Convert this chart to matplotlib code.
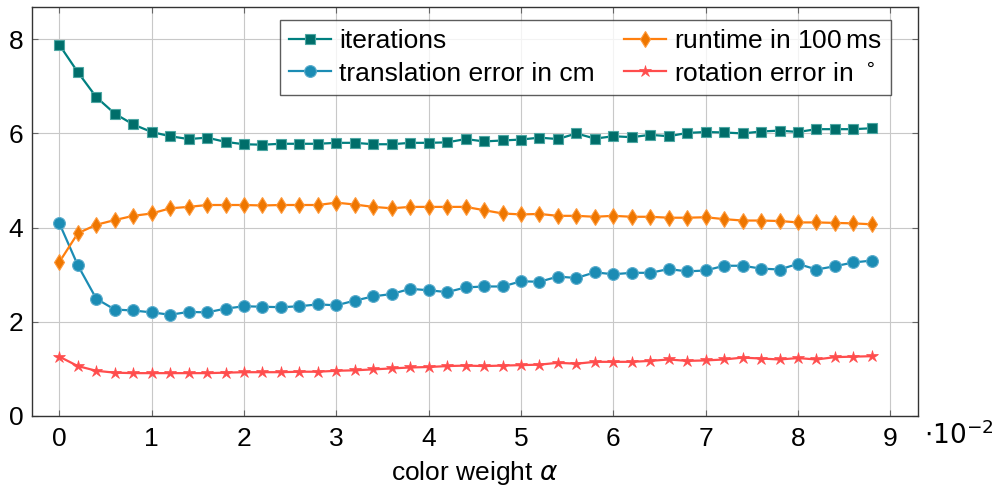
import numpy as np
import matplotlib
matplotlib.use("Agg")
import matplotlib.pyplot as plt

plt.rcParams['font.family'] = ['Liberation Sans', 'DejaVu Sans']
plt.rcParams['mathtext.fontset'] = 'dejavusans'

# color weight alpha, in units of 1e-2
alpha = [0.2 * i for i in range(45)]

iterations = [7.88, 7.30, 6.77, 6.42, 6.19, 6.03, 5.94, 5.88, 5.91, 5.82,
              5.77, 5.76, 5.78, 5.78, 5.78, 5.80, 5.80, 5.77, 5.77, 5.80,
              5.80, 5.81, 5.88, 5.83, 5.85, 5.87, 5.91, 5.88, 6.00, 5.89,
              5.94, 5.92, 5.97, 5.94, 6.01, 6.03, 6.02, 6.00, 6.04, 6.06,
              6.03, 6.09, 6.09, 6.09, 6.11]
runtime = [3.27, 3.88, 4.06, 4.16, 4.25, 4.30, 4.41, 4.44, 4.48, 4.48,
           4.48, 4.47, 4.48, 4.48, 4.48, 4.53, 4.49, 4.44, 4.41, 4.44,
           4.44, 4.44, 4.44, 4.37, 4.30, 4.28, 4.29, 4.25, 4.25, 4.23,
           4.25, 4.23, 4.23, 4.21, 4.21, 4.22, 4.18, 4.15, 4.15, 4.14,
           4.11, 4.11, 4.10, 4.09, 4.07]
trans_err = [4.09, 3.20, 2.49, 2.26, 2.24, 2.20, 2.15, 2.21, 2.20, 2.28,
             2.33, 2.32, 2.31, 2.33, 2.37, 2.35, 2.45, 2.54, 2.59, 2.70,
             2.67, 2.63, 2.73, 2.75, 2.75, 2.86, 2.85, 2.96, 2.93, 3.05,
             3.01, 3.04, 3.04, 3.12, 3.07, 3.09, 3.19, 3.19, 3.13, 3.11,
             3.23, 3.11, 3.18, 3.26, 3.30]
rot_err = [1.26, 1.06, 0.96, 0.92, 0.91, 0.91, 0.91, 0.91, 0.91, 0.92,
           0.93, 0.93, 0.93, 0.94, 0.94, 0.96, 0.97, 0.99, 1.01, 1.03,
           1.04, 1.06, 1.07, 1.06, 1.07, 1.08, 1.09, 1.13, 1.11, 1.15,
           1.15, 1.15, 1.17, 1.20, 1.17, 1.18, 1.20, 1.24, 1.22, 1.20,
           1.23, 1.20, 1.25, 1.26, 1.27]

fs = 19

fig = plt.figure(figsize=(9.96, 4.87), dpi=100)
ax = fig.add_axes([0.0318, 0.1458, 0.8899, 0.8404])

ax.plot(alpha, iterations, color='#008080', lw=1.6, marker='s', ms=7.5,
        mfc='#006e6a', mec='#4da6a3', mew=0.8, label='iterations')
ax.plot(alpha, trans_err, color='#1b8cb4', lw=1.6, marker='o', ms=8.5,
        mfc='#1b8cb4', mec='#5aaccc', mew=0.8, label='translation error in cm')
ax.plot(alpha, runtime, color='#ff7f0e', lw=1.6, marker='d', ms=8,
        mfc='#ee7600', mec='#ff9a3c', mew=0.8, label='runtime in 100$\\,$ms')
ax.plot(alpha, rot_err, color='#ff4d4d', lw=1.6, marker='*', ms=9,
        mfc='#ff4d4d', mec='#ff4d4d', mew=0.5, label='rotation error in $^\\circ$')

ax.set_xlim(-0.3, 9.3)
ax.set_ylim(0, 8.69)
ax.set_xticks(range(10))
ax.set_yticks([0, 2, 4, 6, 8])
ax.grid(True, color='#c8c8c8', lw=0.8)
ax.set_axisbelow(True)
ax.tick_params(direction='in', length=4, width=0.8, color='#666666',
               labelsize=fs, top=True, right=True)
ax.tick_params(axis='x', pad=8)
ax.tick_params(axis='y', pad=6)
for s in ax.spines.values():
    s.set_color('#333333')
    s.set_linewidth(1.0)

ax.set_xlabel('color weight $\\alpha$', fontsize=fs, labelpad=6)
ax.text(1.007, -0.045, '$\\cdot10^{-2}$', transform=ax.transAxes,
        fontsize=fs, va='center', ha='left')

leg = ax.legend(ncol=2, loc='upper right', bbox_to_anchor=(0.9695, 0.9675),
                borderaxespad=0, fontsize=fs, frameon=True, fancybox=False,
                edgecolor='#333333', handlelength=1.6, handletextpad=0.3,
                columnspacing=1.1, labelspacing=0.32, borderpad=0.35)
leg.get_frame().set_linewidth(1.0)

fig.savefig('out.png', dpi=100)
